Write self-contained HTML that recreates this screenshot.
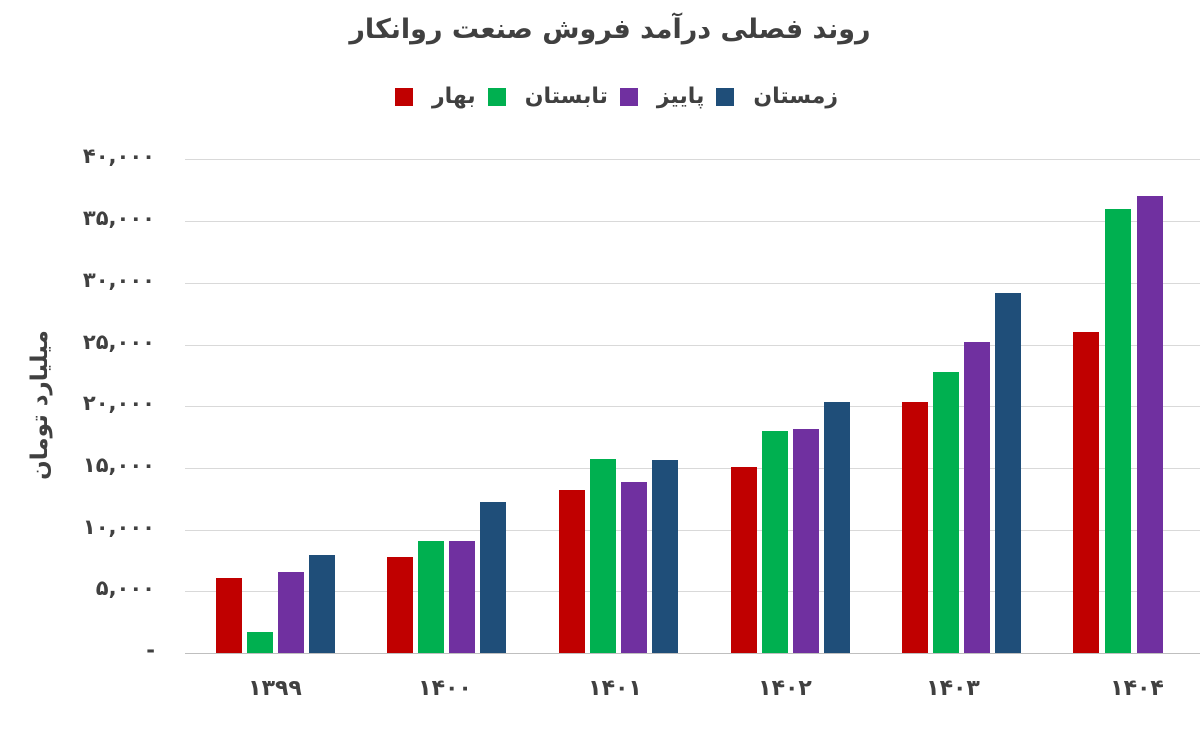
<!DOCTYPE html>
<html><head><meta charset="utf-8"><style>
body{margin:0;width:1200px;height:730px;background:#fff;position:relative;overflow:hidden;font-family:"DejaVu Sans","Liberation Sans",sans-serif;}
.a{position:absolute}
.g{position:absolute;left:185px;width:1015px;height:1px;background:#d9d9d9}
.t{position:absolute;left:40px;width:115px;text-align:right;font-size:21px;color:#404040;font-weight:bold}
.b{position:absolute;width:26px;bottom:77px}
.x{position:absolute;top:676px;width:120px;text-align:center;font-size:22px;color:#404040;font-weight:bold}
.sw{display:inline-block;width:18px;height:18px;vertical-align:middle;margin-right:7px}
.li{display:inline-block;margin:0 12px;direction:rtl;unicode-bidi:isolate}
</style></head><body>
<div class="a" style="left:0;width:1220px;top:14px;text-align:center;font-size:27px;font-weight:bold;color:#404040;direction:rtl">روند فصلی درآمد فروش صنعت روانکار</div>
<div class="a" style="left:0;width:1245px;top:84px;text-align:center;direction:ltr;font-size:22px;font-weight:bold;color:#404040">
<span class="sw" style="background:#c00000"></span><span class="li">بهار</span><span class="sw" style="background:#00b050"></span><span class="li">تابستان</span><span class="sw" style="background:#7030a0"></span><span class="li">پاییز</span><span class="sw" style="background:#1f4e79"></span><span class="li">زمستان</span></div>
<div class="a" style="left:-40px;top:392px;width:160px;text-align:center;transform:rotate(-90deg);font-size:23px;font-weight:bold;color:#404040;direction:rtl">میلیارد تومان</div>

<div class="g" style="top:159px"></div><div class="g" style="top:221px"></div><div class="g" style="top:283px"></div><div class="g" style="top:345px"></div><div class="g" style="top:406px"></div><div class="g" style="top:468px"></div><div class="g" style="top:530px"></div><div class="g" style="top:591px"></div><div class="g" style="top:653px;background:#bfbfbf"></div>

<div class="t" style="top:144px">۴۰,۰۰۰</div>
<div class="t" style="top:206px">۳۵,۰۰۰</div>
<div class="t" style="top:268px">۳۰,۰۰۰</div>
<div class="t" style="top:330px">۲۵,۰۰۰</div>
<div class="t" style="top:391px">۲۰,۰۰۰</div>
<div class="t" style="top:453px">۱۵,۰۰۰</div>
<div class="t" style="top:515px">۱۰,۰۰۰</div>
<div class="t" style="top:576px">۵,۰۰۰</div>
<div class="t" style="top:638px">-</div>

<div class="b" style="left:216px;top:578px;background:#c00000"></div>
<div class="b" style="left:247px;top:632px;background:#00b050"></div>
<div class="b" style="left:278px;top:572px;background:#7030a0"></div>
<div class="b" style="left:309px;top:555px;background:#1f4e79"></div>
<div class="b" style="left:387px;top:557px;background:#c00000"></div>
<div class="b" style="left:418px;top:541px;background:#00b050"></div>
<div class="b" style="left:449px;top:541px;background:#7030a0"></div>
<div class="b" style="left:480px;top:502px;background:#1f4e79"></div>
<div class="b" style="left:559px;top:490px;background:#c00000"></div>
<div class="b" style="left:590px;top:459px;background:#00b050"></div>
<div class="b" style="left:621px;top:482px;background:#7030a0"></div>
<div class="b" style="left:652px;top:460px;background:#1f4e79"></div>
<div class="b" style="left:731px;top:467px;background:#c00000"></div>
<div class="b" style="left:762px;top:431px;background:#00b050"></div>
<div class="b" style="left:793px;top:429px;background:#7030a0"></div>
<div class="b" style="left:824px;top:402px;background:#1f4e79"></div>
<div class="b" style="left:902px;top:402px;background:#c00000"></div>
<div class="b" style="left:933px;top:372px;background:#00b050"></div>
<div class="b" style="left:964px;top:342px;background:#7030a0"></div>
<div class="b" style="left:995px;top:293px;background:#1f4e79"></div>
<div class="b" style="left:1073px;top:332px;background:#c00000"></div>
<div class="b" style="left:1105px;top:209px;background:#00b050"></div>
<div class="b" style="left:1137px;top:196px;background:#7030a0"></div>

<div class="x" style="left:215px">۱۳۹۹</div>
<div class="x" style="left:385px">۱۴۰۰</div>
<div class="x" style="left:555px">۱۴۰۱</div>
<div class="x" style="left:725px">۱۴۰۲</div>
<div class="x" style="left:893px">۱۴۰۳</div>
<div class="x" style="left:1077px">۱۴۰۴</div>
</body></html>
